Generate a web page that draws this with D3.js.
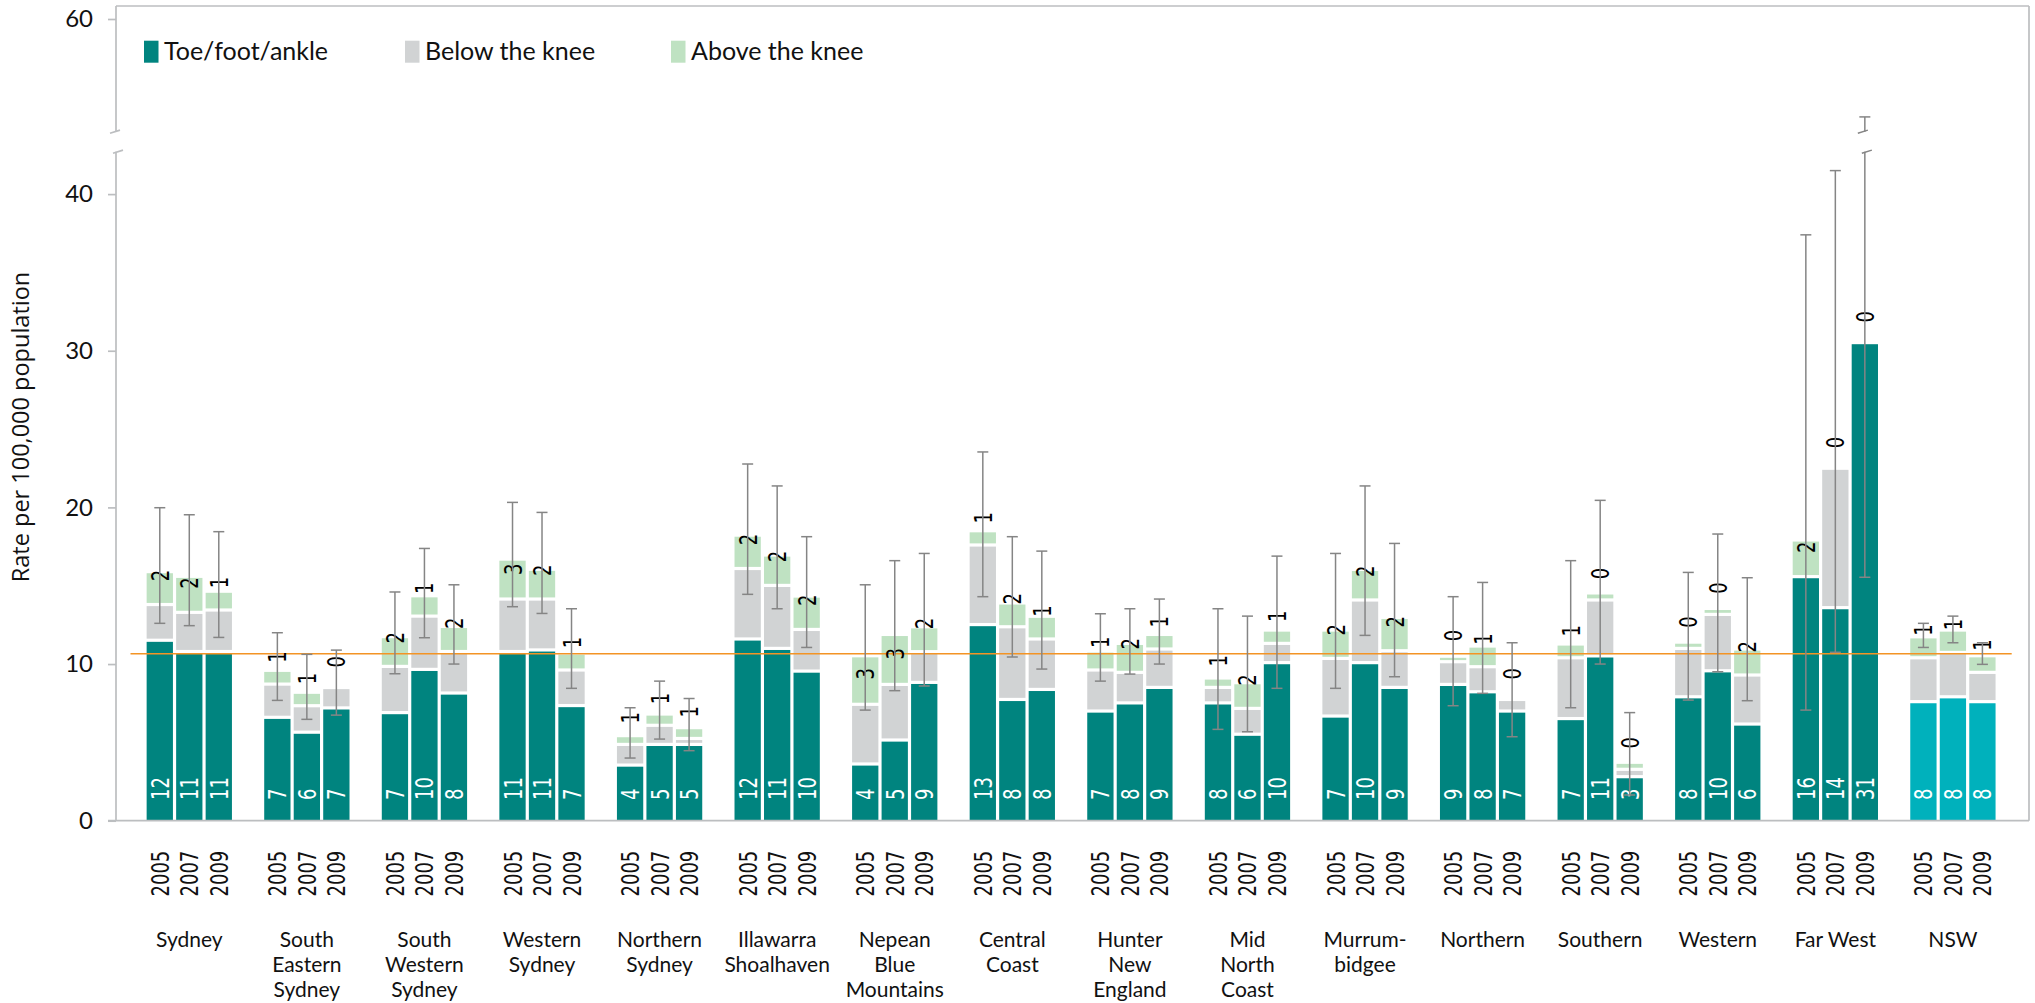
<!DOCTYPE html>
<html>
<head>
<meta charset="utf-8">
<script src="https://cdn.jsdelivr.net/npm/d3@7"></script>
<style>
  body { margin: 0; background: #fff; }
  svg { display: block; }
</style>
</head>
<body>
<svg id="chart" width="2035" height="1003"></svg>
<script>
// ---- data: amputation rates per 100,000 population by health area and year ----
const regions = [
  "Sydney", "South Eastern Sydney", "South Western Sydney", "Western Sydney",
  "Northern Sydney", "Illawarra Shoalhaven", "Nepean Blue Mountains", "Central Coast",
  "Hunter New England", "Mid North Coast", "Murrumbidgee", "Northern",
  "Southern", "Western", "Far West", "NSW"
];
const regionLines = [
  ["Sydney"], ["South", "Eastern", "Sydney"], ["South", "Western", "Sydney"], ["Western", "Sydney"],
  ["Northern", "Sydney"], ["Illawarra", "Shoalhaven"], ["Nepean", "Blue", "Mountains"], ["Central", "Coast"],
  ["Hunter", "New", "England"], ["Mid", "North", "Coast"], ["Murrum-", "bidgee"], ["Northern"],
  ["Southern"], ["Western"], ["Far West"], ["NSW"]
];
const years = ["2005", "2007", "2009"];
const seriesNames = ["Toe/foot/ankle", "Below the knee", "Above the knee"];

const toeFootAnkle = [
  [11.52, 10.8, 10.8], [6.6, 5.65, 7.2], [6.9, 9.66, 8.15], [10.8, 10.9, 7.35],
  [3.55, 4.87, 4.87], [11.6, 11.0, 9.55], [3.62, 5.15, 8.83], [12.52, 7.74, 8.38],
  [7.0, 7.52, 8.51], [7.52, 5.52, 10.09], [6.68, 10.09, 8.51], [8.7, 8.23, 7.0],
  [6.52, 10.52, 2.81], [7.91, 9.57, 6.17], [15.58, 13.6, 30.52], [7.6, 7.91, 7.6]
];
const belowKnee = [
  [2.28, 2.5, 2.65], [2.12, 1.69, 1.3], [2.95, 3.4, 2.65], [3.35, 3.25, 2.27],
  [1.32, 1.22, 0.38], [4.5, 4.02, 2.66], [3.81, 3.55, 1.96], [5.08, 4.64, 3.22],
  [2.62, 1.95, 2.45], [0.99, 1.65, 1.23], [3.68, 4.0, 2.34], [1.45, 1.6, 0.74],
  [3.88, 3.57, 0.47], [3.09, 3.6, 3.13], [0, 8.9, 0], [2.8, 2.83, 1.87]
];
const aboveKnee = [
  [2.1, 2.3, 1.2], [0.88, 0.86, 0], [1.9, 1.3, 1.6], [2.55, 1.9, 1.08],
  [0.56, 0.72, 0.69], [2.13, 1.94, 2.13], [3.1, 3.19, 1.59], [0.91, 1.52, 1.45],
  [1.21, 1.85, 0.93], [0.6, 1.64, 0.85], [1.81, 1.95, 2.13], [0.35, 1.32, 0],
  [0.88, 0.45, 0.45], [0.4, 0.38, 1.66], [2.34, 0, 0], [1.34, 1.43, 1.06]
];
const ciLower = [
  [12.6, 12.45, 11.7], [7.68, 6.47, 6.74], [9.38, 11.68, 10.0], [13.66, 13.23, 8.45],
  [4.0, 5.21, 4.47], [14.45, 13.53, 11.06], [7.06, 8.3, 8.6], [14.3, 10.45, 9.68],
  [8.91, 9.36, 10.0], [5.83, 5.68, 8.45], [8.45, 11.83, 9.19], [7.34, 8.13, 5.36],
  [7.21, 10.0, 1.64], [7.7, 9.51, 7.66], [7.06, 10.75, 15.54], [11.06, 11.36, 9.98]
];
const ciUpper = [
  [19.98, 19.53, 18.45], [12.0, 10.62, 10.89], [14.6, 17.38, 15.06], [20.32, 19.68, 13.53],
  [7.21, 8.91, 7.8], [22.77, 21.37, 18.13], [15.06, 16.6, 17.06], [23.54, 18.13, 17.21],
  [13.21, 13.53, 14.15], [13.53, 13.06, 16.89], [17.06, 21.37, 17.7], [14.3, 15.21, 11.36],
  [16.6, 20.45, 6.9], [15.85, 18.3, 15.51], [37.4, 41.5, 53.75], [12.6, 13.06, 11.36]
];
const nswRate = 10.66;
const yTicksLower = [0, 10, 20, 30, 40];
const yTicksUpper = [60];

// ---- layout ----
const W = 2035, H = 1003;
const axisX = 116, frameRight = 2029, frameTop = 6;
const baseY = 820.7, pxPerUnit = 15.665;
const lowerTopY = 151.7, upperBottomY = 131.7;

const colors = {
  toe: "#00847f", toeNSW: "#00b1bc", below: "#d1d3d4", above: "#bfe2c2",
  axis: "#bcbec0", err: "#858585", ref: "#f39425"
};

const yLower = d3.scaleLinear().domain([0, 40]).range([baseY, baseY - 40 * pxPerUnit]);
const yUpper = d3.scaleLinear().domain([52, 60]).range([19 + 8 * pxPerUnit, 19]);
const lowerMax = yLower.invert(lowerTopY);
const yPos = v => (v <= lowerMax ? yLower(v) : yUpper(v));

const x0 = d3.scaleBand().domain(regions).range([130.5, 2011.7]);
const clusterW = 88.5;
const x1 = d3.scaleBand().domain(years).range([0, clusterW]);
const groupOffset = (x0.bandwidth() - clusterW) / 2;

const rows = [];
regions.forEach((r, gi) => {
  years.forEach((yr, yi) => {
    rows.push({
      region: r, year: yr, gi, yi,
      toe: toeFootAnkle[gi][yi], below: belowKnee[gi][yi], above: aboveKnee[gi][yi],
      lo: ciLower[gi][yi], hi: ciUpper[gi][yi],
      nsw: r === "NSW",
      x: x0(r) + groupOffset + x1(yr)
    });
  });
});
const bw = x1.bandwidth();
const cx = d => d.x + bw / 2;

const svg = d3.select("#chart");
svg.append("rect").attr("width", W).attr("height", H).attr("fill", "#fff");

// ---- stacked bars ----
const keys = ["toe", "below", "above"];
const stacked = d3.stack().keys(keys)(rows);
const gap = 1.6;
const barsG = svg.append("g");
stacked.forEach(layer => {
  const key = layer.key;
  barsG.append("g").selectAll("rect")
    .data(layer)
    .join("rect")
    .attr("x", d => d.data.x + gap)
    .attr("width", bw - 2 * gap)
    .attr("y", d => yPos(d[1]) + gap)
    .attr("height", d => {
      const h = yPos(d[0]) - yPos(d[1]) - (key === "toe" ? gap : 2 * gap);
      return Math.max(0, h);
    })
    .attr("fill", d => key === "toe" ? (d.data.nsw ? colors.toeNSW : colors.toe) : colors[key]);
});

// ---- NSW reference line ----
svg.append("line")
  .attr("x1", x0.range()[0]).attr("x2", x0.range()[1])
  .attr("y1", yLower(nswRate)).attr("y2", yLower(nswRate))
  .attr("stroke", colors.ref).attr("stroke-width", 1.6);

// ---- value labels (rotated) ----
const rotFont = "DejaVu Sans, Verdana, sans-serif";
const rotSize = 25, rotSquash = 0.72;
function rotLabel(g, x, y, txt, fill) {
  g.append("text")
    .attr("transform", `translate(${x},${y}) rotate(-90) scale(${rotSquash},1)`)
    .attr("dy", "0.36em")
    .attr("text-anchor", "start")
    .attr("font-family", rotFont)
    .attr("font-size", rotSize)
    .attr("fill", fill)
    .text(txt);
}
const labG = svg.append("g");
rows.forEach(d => {
  rotLabel(labG, cx(d), 800, Math.round(d.toe), "#fff");
  const gTop = yPos(d.toe + d.below);
  const aTop = yPos(d.toe + d.below + d.above);
  const seg = gTop - aTop;
  rotLabel(labG, cx(d), aTop + 0.9 * seg - 20, Math.round(d.above), "#000");
});

// ---- confidence intervals ----
const errG = svg.append("g").attr("stroke", colors.err).attr("stroke-width", 1.5).attr("fill", "none");
const capW = 11;
function slash(g, x, y) {
  g.append("line").attr("x1", x - 5).attr("x2", x + 5).attr("y1", y + 1.6).attr("y2", y - 1.6);
}
rows.forEach(d => {
  const x = cx(d);
  const yl = yPos(d.lo);
  if (d.hi > lowerMax) {
    errG.append("line").attr("x1", x).attr("x2", x).attr("y1", yl).attr("y2", lowerTopY);
    slash(errG, x + 2, lowerTopY);
    errG.append("line").attr("x1", x).attr("x2", x).attr("y1", upperBottomY).attr("y2", yPos(d.hi));
    slash(errG, x - 2, upperBottomY);
  } else {
    errG.append("line").attr("x1", x).attr("x2", x).attr("y1", yl).attr("y2", yPos(d.hi));
  }
  [d.lo, d.hi].forEach(v => {
    errG.append("line").attr("x1", x - capW / 2).attr("x2", x + capW / 2)
      .attr("y1", yPos(v)).attr("y2", yPos(v));
  });
});

// ---- axes and frame ----
const frameG = svg.append("g").attr("stroke", colors.axis).attr("stroke-width", 1.7).attr("fill", "none");
frameG.append("line").attr("x1", axisX).attr("x2", frameRight).attr("y1", frameTop).attr("y2", frameTop);
frameG.append("line").attr("x1", frameRight).attr("x2", frameRight).attr("y1", frameTop).attr("y2", baseY);
frameG.append("line").attr("x1", axisX - 8).attr("x2", frameRight).attr("y1", baseY).attr("y2", baseY);
frameG.append("line").attr("x1", axisX).attr("x2", axisX).attr("y1", frameTop).attr("y2", upperBottomY);
frameG.append("line").attr("x1", axisX).attr("x2", axisX).attr("y1", lowerTopY).attr("y2", baseY);
slash(frameG, axisX - 1, upperBottomY);
slash(frameG, axisX + 2, lowerTopY);

function styleAxis(g) {
  g.select(".domain").remove();
  g.selectAll(".tick line").attr("stroke", colors.axis).attr("stroke-width", 1.7);
  g.selectAll(".tick text")
    .attr("font-family", "Lato, sans-serif").attr("font-size", 24).attr("fill", "#111");
}
svg.append("g").attr("transform", `translate(${axisX},0)`)
  .call(d3.axisLeft(yLower).tickValues(yTicksLower).tickSize(8).tickPadding(15))
  .call(styleAxis);
svg.append("g").attr("transform", `translate(${axisX},0)`)
  .call(d3.axisLeft(yUpper).tickValues(yTicksUpper).tickSize(8).tickPadding(15))
  .call(styleAxis);

// y-axis title
svg.append("text")
  .attr("transform", "translate(29,427) rotate(-90)")
  .attr("text-anchor", "middle")
  .attr("font-family", "Open Sans, sans-serif")
  .attr("font-size", 23.5)
  .attr("fill", "#111")
  .text("Rate per 100,000 population");

// year labels under each bar
const yearG = svg.append("g");
rows.forEach(d => rotLabel(yearG, cx(d), 896.5, d.year, "#111"));

// region names
const regG = svg.append("g")
  .attr("font-family", "Lato, sans-serif").attr("font-size", 21).attr("fill", "#111")
  .attr("text-anchor", "middle");
regions.forEach((r, gi) => {
  const t = regG.append("text").attr("x", x0(r) + x0.bandwidth() / 2).attr("y", 946.5);
  regionLines[gi].forEach((ln, li) => {
    t.append("tspan").attr("x", x0(r) + x0.bandwidth() / 2).attr("dy", li === 0 ? 0 : 25).text(ln);
  });
});

// legend
const legendX = [144, 405, 671];
const legendColors = [colors.toe, colors.below, colors.above];
const legG = svg.append("g");
seriesNames.forEach((name, i) => {
  legG.append("rect").attr("x", legendX[i]).attr("y", 40.7).attr("width", 14.5).attr("height", 22)
    .attr("fill", legendColors[i]);
  legG.append("text").attr("x", legendX[i] + 20).attr("y", 60)
    .attr("font-family", "Lato, sans-serif").attr("font-size", 25).attr("fill", "#111")
    .text(name);
});
</script>
</body>
</html>
